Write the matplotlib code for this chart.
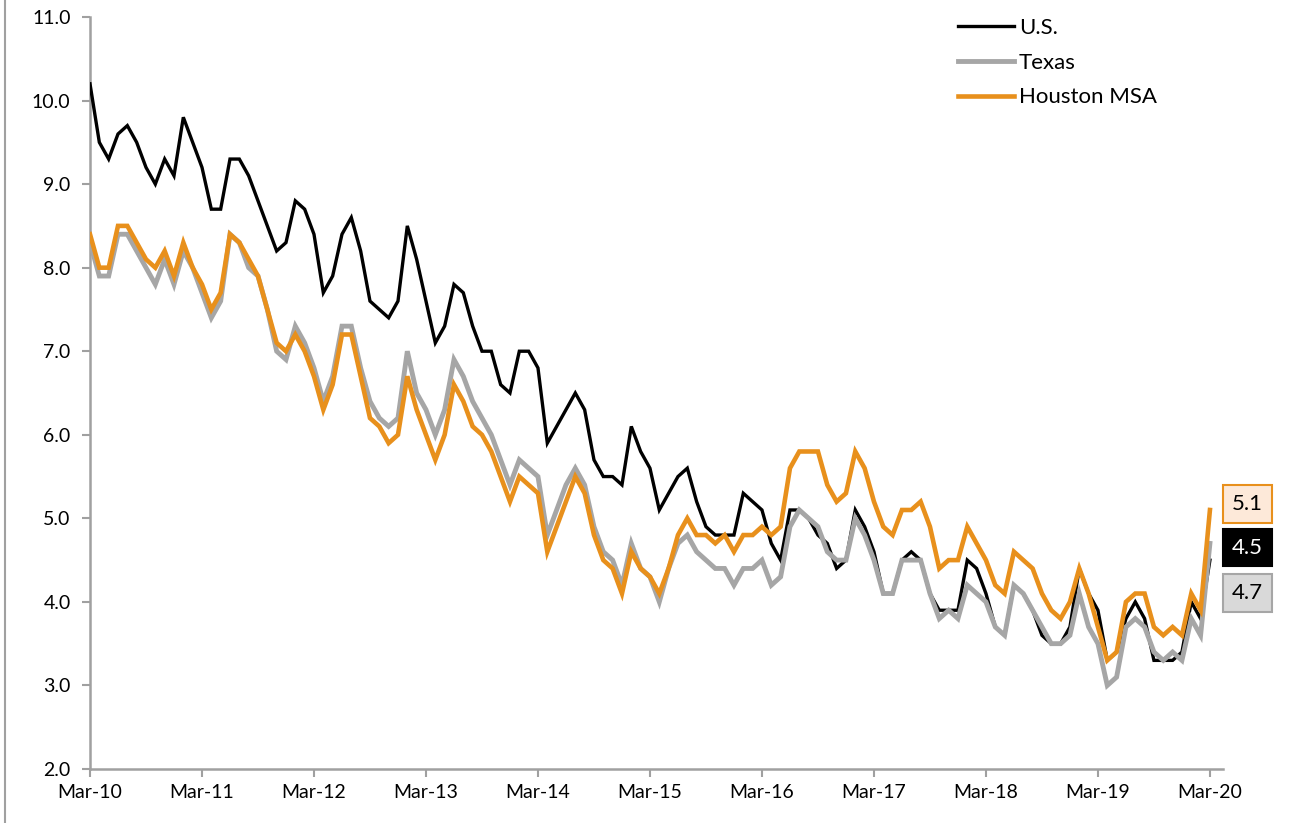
import matplotlib
matplotlib.use("Agg")
import matplotlib.pyplot as plt
import numpy as np
from matplotlib.lines import Line2D

plt.rcParams['font.family'] = ['Lato', 'DejaVu Sans']

# monthly unemployment rate, Mar-2010 .. Mar-2020 (not seasonally adjusted)
us = [
    10.2, 9.5, 9.3, 9.6, 9.7, 9.5, 9.2, 9.0, 9.3, 9.1,
    9.8, 9.5, 9.2, 8.7, 8.7, 9.3, 9.3, 9.1, 8.8, 8.5, 8.2, 8.3,
    8.8, 8.7, 8.4, 7.7, 7.9, 8.4, 8.6, 8.2, 7.6, 7.5, 7.4, 7.6,
    8.5, 8.1, 7.6, 7.1, 7.3, 7.8, 7.7, 7.3, 7.0, 7.0, 6.6, 6.5,
    7.0, 7.0, 6.8, 5.9, 6.1, 6.3, 6.5, 6.3, 5.7, 5.5, 5.5, 5.4,
    6.1, 5.8, 5.6, 5.1, 5.3, 5.5, 5.6, 5.2, 4.9, 4.8, 4.8, 4.8,
    5.3, 5.2, 5.1, 4.7, 4.5, 5.1, 5.1, 5.0, 4.8, 4.7, 4.4, 4.5,
    5.1, 4.9, 4.6, 4.1, 4.1, 4.5, 4.6, 4.5, 4.1, 3.9, 3.9, 3.9,
    4.5, 4.4, 4.1, 3.7, 3.6, 4.2, 4.1, 3.9, 3.6, 3.5, 3.5, 3.7,
    4.4, 4.1, 3.9, 3.3, 3.4, 3.8, 4.0, 3.8, 3.3, 3.3, 3.3, 3.4,
    4.0, 3.8, 4.5,
]
texas = [
    8.3, 7.9, 7.9, 8.4, 8.4, 8.2, 8.0, 7.8, 8.1, 7.8,
    8.2, 8.0, 7.7, 7.4, 7.6, 8.4, 8.3, 8.0, 7.9, 7.5, 7.0, 6.9,
    7.3, 7.1, 6.8, 6.4, 6.7, 7.3, 7.3, 6.8, 6.4, 6.2, 6.1, 6.2,
    7.0, 6.5, 6.3, 6.0, 6.3, 6.9, 6.7, 6.4, 6.2, 6.0, 5.7, 5.4,
    5.7, 5.6, 5.5, 4.8, 5.1, 5.4, 5.6, 5.4, 4.9, 4.6, 4.5, 4.2,
    4.7, 4.4, 4.3, 4.0, 4.4, 4.7, 4.8, 4.6, 4.5, 4.4, 4.4, 4.2,
    4.4, 4.4, 4.5, 4.2, 4.3, 4.9, 5.1, 5.0, 4.9, 4.6, 4.5, 4.5,
    5.0, 4.8, 4.5, 4.1, 4.1, 4.5, 4.5, 4.5, 4.1, 3.8, 3.9, 3.8,
    4.2, 4.1, 4.0, 3.7, 3.6, 4.2, 4.1, 3.9, 3.7, 3.5, 3.5, 3.6,
    4.1, 3.7, 3.5, 3.0, 3.1, 3.7, 3.8, 3.7, 3.4, 3.3, 3.4, 3.3,
    3.8, 3.6, 4.7,
]
houston = [
    8.4, 8.0, 8.0, 8.5, 8.5, 8.3, 8.1, 8.0, 8.2, 7.9,
    8.3, 8.0, 7.8, 7.5, 7.7, 8.4, 8.3, 8.1, 7.9, 7.5, 7.1, 7.0,
    7.2, 7.0, 6.7, 6.3, 6.6, 7.2, 7.2, 6.7, 6.2, 6.1, 5.9, 6.0,
    6.7, 6.3, 6.0, 5.7, 6.0, 6.6, 6.4, 6.1, 6.0, 5.8, 5.5, 5.2,
    5.5, 5.4, 5.3, 4.6, 4.9, 5.2, 5.5, 5.3, 4.8, 4.5, 4.4, 4.1,
    4.6, 4.4, 4.3, 4.1, 4.4, 4.8, 5.0, 4.8, 4.8, 4.7, 4.8, 4.6,
    4.8, 4.8, 4.9, 4.8, 4.9, 5.6, 5.8, 5.8, 5.8, 5.4, 5.2, 5.3,
    5.8, 5.6, 5.2, 4.9, 4.8, 5.1, 5.1, 5.2, 4.9, 4.4, 4.5, 4.5,
    4.9, 4.7, 4.5, 4.2, 4.1, 4.6, 4.5, 4.4, 4.1, 3.9, 3.8, 4.0,
    4.4, 4.1, 3.7, 3.3, 3.4, 4.0, 4.1, 4.1, 3.7, 3.6, 3.7, 3.6,
    4.1, 3.9, 5.1,
]
tick_labels = ['Mar-10', 'Mar-11', 'Mar-12', 'Mar-13', 'Mar-14', 'Mar-15',
               'Mar-16', 'Mar-17', 'Mar-18', 'Mar-19', 'Mar-20']

months = np.arange(len(us))
ORANGE = '#e8901c'
GREY = '#a6a6a6'
AXIS = '#a0a0a0'

fig = plt.figure(figsize=(12.89, 8.23), dpi=100)
ax = fig.add_axes([90 / 1289, 1 - 769 / 823, (1223 - 90) / 1289, (769 - 17) / 823])

ax.plot(months, us, color='black', lw=2.4, label='U.S.', zorder=3,
        solid_joinstyle='miter')
ax.plot(months, texas, color=GREY, lw=3.5, label='Texas', zorder=4,
        solid_joinstyle='miter')
ax.plot(months, houston, color=ORANGE, lw=3.3, label='Houston MSA', zorder=5,
        solid_joinstyle='miter')

ax.set_xlim(0, 121.4)
ax.set_ylim(2.0, 11.0)
ax.set_yticks(np.arange(2.0, 11.01, 1.0))
ax.set_yticklabels([f'{v:.1f}' for v in np.arange(2.0, 11.01, 1.0)])
ax.set_xticks(np.arange(0, 121, 12))
ax.set_xticklabels(tick_labels)

for side in ['top', 'right']:
    ax.spines[side].set_visible(False)
for side in ['left', 'bottom']:
    ax.spines[side].set_color(AXIS)
    ax.spines[side].set_linewidth(1.8)
ax.tick_params(axis='both', direction='out', color=AXIS, width=1.5, length=6,
               labelsize=14, labelcolor='black')
ax.tick_params(axis='x', pad=5)
ax.tick_params(axis='y', pad=8)

# end-of-series value boxes
box_x = 124.0
ax.text(box_x, 5.17, f'{houston[-1]:.1f}', fontsize=16, ha='center', va='center',
        clip_on=False,
        bbox=dict(boxstyle='square,pad=0.4', fc='#fde9d9', ec=ORANGE, lw=1.5))
ax.text(box_x, 4.65, f'{us[-1]:.1f}', fontsize=16, ha='center', va='center',
        color='white', clip_on=False,
        bbox=dict(boxstyle='square,pad=0.4', fc='black', ec='black', lw=1.5))
ax.text(box_x, 4.11, f'{texas[-1]:.1f}', fontsize=16, ha='center', va='center',
        clip_on=False,
        bbox=dict(boxstyle='square,pad=0.4', fc='#d9d9d9', ec=GREY, lw=1.5))

ax.legend(loc='upper left', bbox_to_anchor=(958 / 1289, 1 - 18 / 823),
          bbox_transform=fig.transFigure, frameon=False, fontsize=16,
          handlelength=2.5, handletextpad=0.25, labelspacing=0.66,
          borderpad=0, borderaxespad=0)

# thin frame line on the left edge
fig.add_artist(Line2D([5 / 1289, 5 / 1289], [0, 1], transform=fig.transFigure,
                      color=AXIS, lw=1.5))

fig.savefig('out.png', dpi=100)
